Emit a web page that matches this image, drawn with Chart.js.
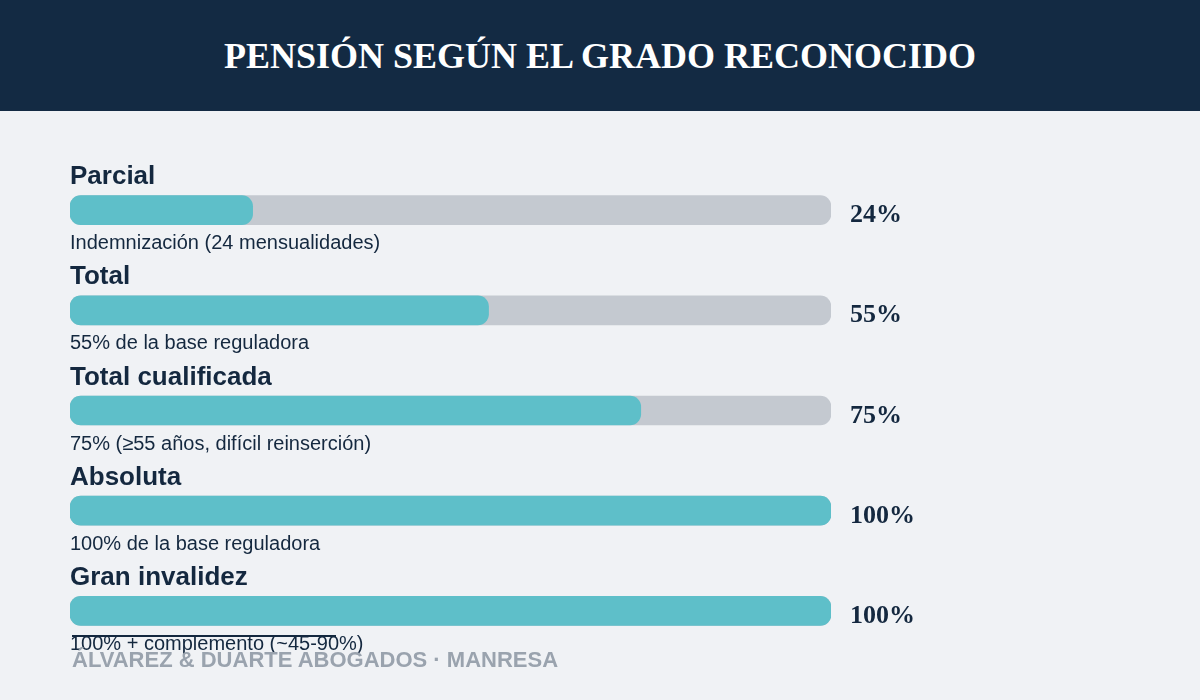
<!DOCTYPE html>
<html lang="es">
<head>
<meta charset="utf-8">
<title>Pensión según el grado reconocido</title>
<script src="https://cdn.jsdelivr.net/npm/chart.js@4.4.1/dist/chart.umd.min.js"></script>
<style>
  html, body { margin: 0; padding: 0; }
  body {
    width: 1200px; height: 700px; overflow: hidden;
    background: #f0f2f5; position: relative;
    font-family: "Liberation Sans", Arial, sans-serif;
  }
  .header {
    position: absolute; top: 0; left: 0; width: 1200px; height: 111px;
    background: #132a43; z-index: 2;
    display: flex; align-items: center; justify-content: center;
  }
  .header h1 {
    margin: 0; color: #fff;
    font-family: "Liberation Serif", "Times New Roman", serif;
    font-weight: bold; font-size: 36px;
  }
  #wrap { position: absolute; top: 0; left: 0; width: 1200px; height: 700px; }
  .footer {
    position: absolute; left: 72px; top: 635px; z-index: 2;
    border-top: 2px solid #14283f; width: 264px;
  }
  .footer span {
    position: absolute; left: 0; top: 10px; white-space: nowrap;
    color: #9aa3ae; font-weight: bold; font-size: 22px;
  }
</style>
</head>
<body>
<div class="header"><h1>PENSIÓN SEGÚN EL GRADO RECONOCIDO</h1></div>
<div id="wrap"><canvas id="chart"></canvas></div>
<div class="footer"><span>ÁLVAREZ &amp; DUARTE ABOGADOS · MANRESA</span></div>
<script>
// Data
const grados = ['Parcial', 'Total', 'Total cualificada', 'Absoluta', 'Gran invalidez'];
const porcentajes = [24, 55, 75, 100, 100];
const detalles = [
    'Indemnización (24 mensualidades)',
    '55% de la base reguladora',
    '75% (≥55 años, difícil reinserción)',
    '100% de la base reguladora',
    '100% + complemento (~45-90%)'
];
const maximo = [100, 100, 100, 100, 100];

const textColor = '#14283f';

// Draws the row titles, sub texts and percentages around each bar
const rowLabels = {
    id: 'rowLabels',
    afterDatasetsDraw(chart) {
        const ctx = chart.ctx;
        const meta = chart.getDatasetMeta(1);
        const left = chart.chartArea.left;
        const right = chart.chartArea.right;
        ctx.save();
        ctx.fillStyle = textColor;
        ctx.textAlign = 'left';
        ctx.textBaseline = 'alphabetic';
        meta.data.forEach((bar, i) => {
            const y = bar.y;
            ctx.font = 'bold 26px "Liberation Sans", Arial, sans-serif';
            ctx.fillText(grados[i], left, y - 26);
            ctx.font = '20px "Liberation Sans", Arial, sans-serif';
            ctx.fillText(detalles[i], left, y + 39);
            ctx.font = 'bold 26px "Liberation Serif", "Times New Roman", serif';
            ctx.fillText(porcentajes[i] + '%', right + 19, y + 12);
        });
        ctx.restore();
    }
};

new Chart(document.getElementById('chart'), {
    type: 'bar',
    data: {
        labels: grados,
        datasets: [
            {
                label: 'Porcentaje',
                data: porcentajes,
                backgroundColor: '#5ebfc9',
                borderRadius: 11,
                borderSkipped: false,
                barThickness: 29,
                order: 1
            },
            {
                label: 'Fondo',
                data: maximo,
                backgroundColor: '#c4c9d0',
                borderRadius: 11,
                borderSkipped: false,
                barThickness: 29,
                order: 2
            }
        ]
    },
    options: {
        indexAxis: 'y',
        responsive: true,
        maintainAspectRatio: false,
        animation: false,
        layout: { padding: { left: 70, right: 369, top: 160, bottom: 39 } },
        scales: {
            x: { display: false, min: 0, max: 100 },
            y: { display: false, stacked: false }
        },
        datasets: { bar: { grouped: false } },
        plugins: {
            legend: { display: false },
            tooltip: { enabled: false }
        }
    },
    plugins: [rowLabels]
});
</script>
</body>
</html>
